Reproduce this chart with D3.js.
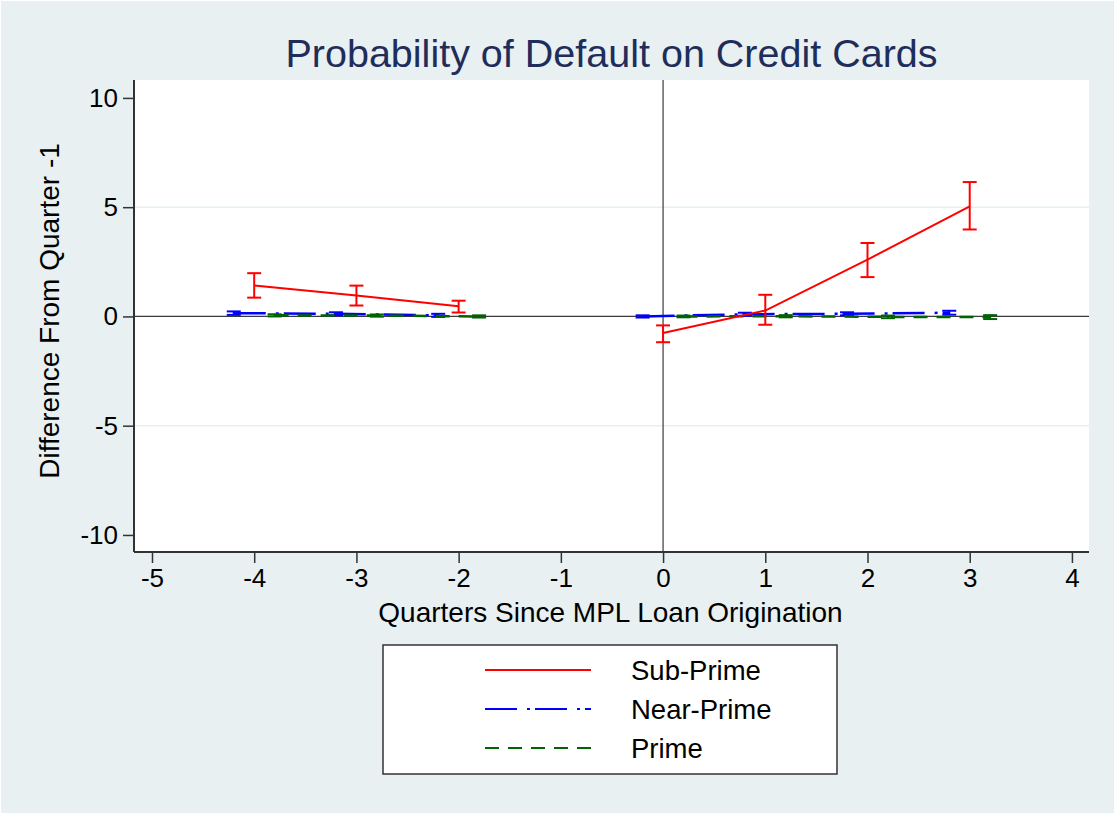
<!DOCTYPE html>
<html>
<head>
<meta charset="utf-8">
<script src="https://cdn.jsdelivr.net/npm/d3@7/dist/d3.min.js"></script>
<style>
  html, body { margin: 0; padding: 0; background: #ffffff; }
  svg { display: block; }
  text { font-family: "Liberation Sans", Arial, sans-serif; }
</style>
</head>
<body>
<svg id="chart" width="1115" height="814"></svg>
<script>
// ---------------- data ----------------
const quarters = [-4, -3, -2, 0, 1, 2, 3];

const subPrime   = [1.42, 0.96, 0.47, -0.76, 0.27, 2.60, 5.04];
const subPrimeLo = [0.86, 0.50, 0.18, -1.18, -0.38, 1.80, 3.98];
const subPrimeHi = [1.98, 1.41, 0.72, -0.41, 0.99, 3.36, 6.15];

const nearPrime   = [0.15, 0.12, 0.05, 0.00, 0.10, 0.12, 0.17];
const nearPrimeLo = [0.07, 0.05, -0.02, -0.05, 0.03, 0.05, 0.08];
const nearPrimeHi = [0.23, 0.19, 0.12, 0.05, 0.17, 0.19, 0.26];

const prime   = [0.05, 0.04, 0.00, 0.00, 0.01, -0.02, -0.03];
const primeLo = [0.00, -0.01, -0.05, -0.04, -0.04, -0.08, -0.12];
const primeHi = [0.10, 0.09, 0.05, 0.04, 0.06, 0.04, 0.06];

const seriesNames = ["Sub-Prime", "Near-Prime", "Prime"];
const xTicks = [-5, -4, -3, -2, -1, 0, 1, 2, 3, 4];
const yTicks = [-10, -5, 0, 5, 10];
const titleText = "Probability of Default on Credit Cards";
const xTitle = "Quarters Since MPL Loan Origination";
const yTitle = "Difference From Quarter -1";

// ---------------- layout / styles ----------------
const W = 1115, H = 814;
const plot = { left: 134, right: 1089, top: 80, bottom: 552 };
const styles = [
  { color: "#ff0000", dash: null, dodge: 0, width: 2 },
  { color: "#0000ff", dash: "32,10,3,5", dodge: -0.2, width: 2.5 },
  { color: "#006400", dash: "14,9", dodge: 0.2, width: 2.5 }
];

const series = [
  { name: seriesNames[0], y: subPrime, lo: subPrimeLo, hi: subPrimeHi },
  { name: seriesNames[1], y: nearPrime, lo: nearPrimeLo, hi: nearPrimeHi },
  { name: seriesNames[2], y: prime, lo: primeLo, hi: primeHi }
];

const svg = d3.select("#chart");

// background
svg.append("rect").attr("x", 1).attr("y", 1).attr("width", W - 2).attr("height", H - 2)
  .attr("fill", "#e8f0f2");

const x = d3.scaleLinear().domain([-5.176, 4.167]).range([plot.left, plot.right]);
const y = d3.scaleLinear().domain([-10.78, 10.82]).range([plot.bottom, plot.top]);

// plot region
svg.append("rect").attr("x", plot.left).attr("y", plot.top)
  .attr("width", plot.right - plot.left).attr("height", plot.bottom - plot.top)
  .attr("fill", "#ffffff");

// gridlines (interior, non-zero)
svg.append("g").selectAll("line").data(yTicks.filter(t => t !== 0 && Math.abs(t) < 10))
  .join("line")
  .attr("x1", plot.left).attr("x2", plot.right)
  .attr("y1", d => y(d)).attr("y2", d => y(d))
  .attr("stroke", "#e6eff1").attr("stroke-width", 1.5);

// reference lines
svg.append("line").attr("x1", plot.left).attr("x2", plot.right)
  .attr("y1", y(0)).attr("y2", y(0)).attr("stroke", "#3a3a3a").attr("stroke-width", 1.2);
svg.append("line").attr("x1", x(0)).attr("x2", x(0))
  .attr("y1", plot.top).attr("y2", plot.bottom).attr("stroke", "#3a3a3a").attr("stroke-width", 1.2);

// axes
const fmt = d => String(d);
const xAxis = d3.axisBottom(x).tickValues(xTicks).tickSize(11).tickPadding(6).tickFormat(fmt);
const yAxis = d3.axisLeft(y).tickValues(yTicks).tickSize(11).tickPadding(5).tickFormat(fmt);

const gx = svg.append("g").attr("transform", `translate(0,${plot.bottom})`).call(xAxis);
const gy = svg.append("g").attr("transform", `translate(${plot.left},0)`).call(yAxis);
[gx, gy].forEach(g => {
  g.select(".domain").attr("stroke", "#333").attr("stroke-width", 2);
  g.selectAll(".tick line").attr("stroke", "#333").attr("stroke-width", 1.5);
  g.selectAll(".tick text").attr("fill", "#000").style("font-size", "26px")
    .style("font-family", "'Liberation Sans', Arial, sans-serif");
});
gx.select(".domain").attr("d", `M${plot.left},0H${plot.right}`);
gy.select(".domain").attr("d", `M0,${plot.top}V${plot.bottom}`);

// series
const line = d3.line().x(d => x(d.q)).y(d => y(d.v));
const capHalf = 7;
const drawOrder = [1, 2, 0];
drawOrder.forEach(i => {
  const s = series[i], st = styles[i];
  const pts = quarters.map((q, k) => ({ q: q + st.dodge, v: s.y[k], lo: s.lo[k], hi: s.hi[k], pre: q < 0 }));
  const g = svg.append("g");
  [pts.filter(p => p.pre), pts.filter(p => !p.pre)].forEach(seg => {
    g.append("path").datum(seg).attr("d", line)
      .attr("fill", "none").attr("stroke", st.color).attr("stroke-width", st.width)
      .attr("stroke-dasharray", st.dash);
  });
  const eb = g.selectAll("g.eb").data(pts).join("g");
  eb.append("line").attr("x1", d => x(d.q)).attr("x2", d => x(d.q))
    .attr("y1", d => y(d.lo)).attr("y2", d => y(d.hi))
    .attr("stroke", st.color).attr("stroke-width", 2);
  ["lo", "hi"].forEach(k => {
    eb.append("line").attr("x1", d => x(d.q) - capHalf).attr("x2", d => x(d.q) + capHalf)
      .attr("y1", d => y(d[k])).attr("y2", d => y(d[k]))
      .attr("stroke", st.color).attr("stroke-width", 2);
  });
});

// title
svg.append("text").attr("x", (plot.left + plot.right) / 2).attr("y", 67)
  .attr("text-anchor", "middle").attr("fill", "#1f2d5a")
  .style("font-size", "39.5px").text(titleText);

// axis titles
svg.append("text").attr("x", (plot.left + plot.right) / 2 - 1).attr("y", 622)
  .attr("text-anchor", "middle").attr("fill", "#000").style("font-size", "28px").text(xTitle);
svg.append("text").attr("transform", `translate(59,${(plot.top + plot.bottom) / 2 - 5}) rotate(-90)`)
  .attr("text-anchor", "middle").attr("fill", "#000").style("font-size", "28px").text(yTitle);

// legend
const leg = { x: 383, y: 645, w: 454, h: 129 };
svg.append("rect").attr("x", leg.x).attr("y", leg.y).attr("width", leg.w).attr("height", leg.h)
  .attr("fill", "#fff").attr("stroke", "#333").attr("stroke-width", 1.5);
const rowsY = [670, 709, 748];
seriesNames.forEach((n, i) => {
  const st = styles[i];
  svg.append("line").attr("x1", 485).attr("x2", 591).attr("y1", rowsY[i]).attr("y2", rowsY[i])
    .attr("stroke", st.color).attr("stroke-width", 2).attr("stroke-dasharray", st.dash);
  svg.append("text").attr("x", 631).attr("y", rowsY[i] + 10).attr("fill", "#000")
    .style("font-size", "27.5px").text(n);
});
</script>
</body>
</html>
